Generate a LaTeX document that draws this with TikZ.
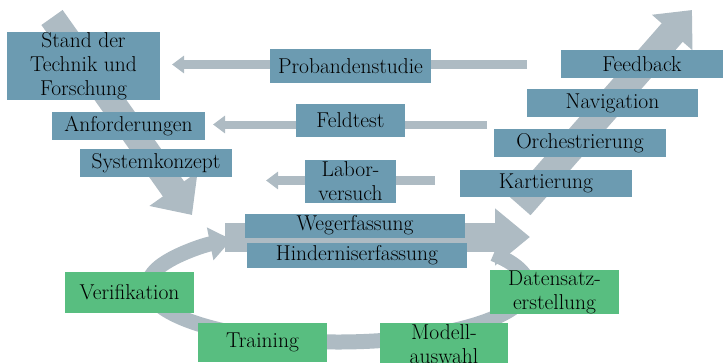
\documentclass[tikz,border=0pt]{standalone}
\usepackage{tikz}
\usetikzlibrary{arrows.meta}
\definecolor{boxblue}{RGB}{108,155,177}
\definecolor{boxgreen}{RGB}{88,190,128}
\definecolor{arrowgray}{RGB}{174,187,195}

\begin{document}
\begin{tikzpicture}[x=1pt,y=-1pt,
    bluebox/.style={fill=boxblue,inner sep=0pt,align=center,font=\fontsize{21.5}{24}\selectfont},
    greenbox/.style={fill=boxgreen,inner sep=0pt,align=center,font=\fontsize{21.5}{24}\selectfont},
    grayarrow/.style={draw=arrowgray,line width=#1}]
	\useasboundingbox (0,0) rectangle (724,362);
	\clip (0,0) rectangle (724,362);

	% arrow end points
	\coordinate (downtail) at (52,17.5);
	\coordinate (downtip) at (192,215);
	\coordinate (uptail) at (520,206);
	\coordinate (uptip) at (692,10);
	\coordinate (probtail) at (527,64.5);
	\coordinate (probtip) at (172,64.5);
	\coordinate (feldtail) at (487,124.5);
	\coordinate (feldtip) at (213,124.5);
	\coordinate (labortail) at (435,180.5);
	\coordinate (labortip) at (266,180.5);
	\coordinate (cycletail) at (225,237);
	\coordinate (cycletip) at (530,237);
	\coordinate (cyc) at (338,286);

	% loop and block arrows
	\draw[grayarrow=15pt,-{Triangle[width=32pt,length=22pt]}] (cyc) ++(-35:190 and 56) arc[start angle=-35,end angle=236,x radius=190,y radius=56];
	\draw[grayarrow=29pt,-{Triangle[width=55pt,length=35pt]}] (cycletail) -- (cycletip);
	\draw[grayarrow=26pt,-{Triangle[width=57pt,length=32pt]}] (downtail) -- (downtip);
	\draw[grayarrow=28pt,-{Triangle[width=52pt,length=30pt]}] (uptail) -- (uptip);
	\draw[grayarrow=9pt,-{Triangle[width=17pt,length=12pt]}] (probtail) -- (probtip);
	\draw[grayarrow=8pt,-{Triangle[width=17pt,length=12pt]}] (feldtail) -- (feldtip);
	\draw[grayarrow=9pt,-{Triangle[width=17pt,length=12pt]}] (labortail) -- (labortip);

	% left side
	\node[bluebox,minimum width=153pt,minimum height=68pt] (stand) at (83.5,66) {Stand der\\Technik und\\Forschung};
	\node[bluebox,minimum width=153pt,minimum height=28pt] (anford) at (128.5,126) {Anforderungen};
	\node[bluebox,minimum width=152pt,minimum height=28pt] (sysk) at (156,163) {Systemkonzept};

	% middle
	\node[bluebox,minimum width=161pt,minimum height=34pt] (proband) at (350.5,66) {Probandenstudie};
	\node[bluebox,minimum width=109pt,minimum height=33pt] (feldtest) at (350.5,120.5) {Feldtest};
	\node[bluebox,minimum width=91pt,minimum height=43pt] (labor) at (350.5,181.5) {Labor-\\versuch};
	\node[bluebox,minimum width=220pt,minimum height=24pt] (weg) at (355,225.5) {Wegerfassung};
	\node[bluebox,minimum width=220pt,minimum height=25pt] (hindernis) at (357,255.5) {Hinderniserfassung};

	% right side
	\node[bluebox,minimum width=162pt,minimum height=28pt] (feedback) at (642,64) {Feedback};
	\node[bluebox,minimum width=171pt,minimum height=28pt] (navi) at (612.5,103) {Navigation};
	\node[bluebox,minimum width=172pt,minimum height=28pt] (orch) at (580,143) {Orchestrierung};
	\node[bluebox,minimum width=172pt,minimum height=27pt] (kart) at (546,183.5) {Kartierung};

	% cycle
	\node[greenbox,minimum width=129pt,minimum height=41pt] (verif) at (129.5,292.5) {Verifikation};
	\node[greenbox,minimum width=129pt,minimum height=39pt] (training) at (262.5,342.5) {Training};
	\node[greenbox,minimum width=128pt,minimum height=42pt] (modell) at (444,344) {Modell-\\auswahl};
	\node[greenbox,minimum width=129pt,minimum height=42pt] (datensatz) at (554.5,292) {Datensatz-\\erstellung};
\end{tikzpicture}
\end{document}
